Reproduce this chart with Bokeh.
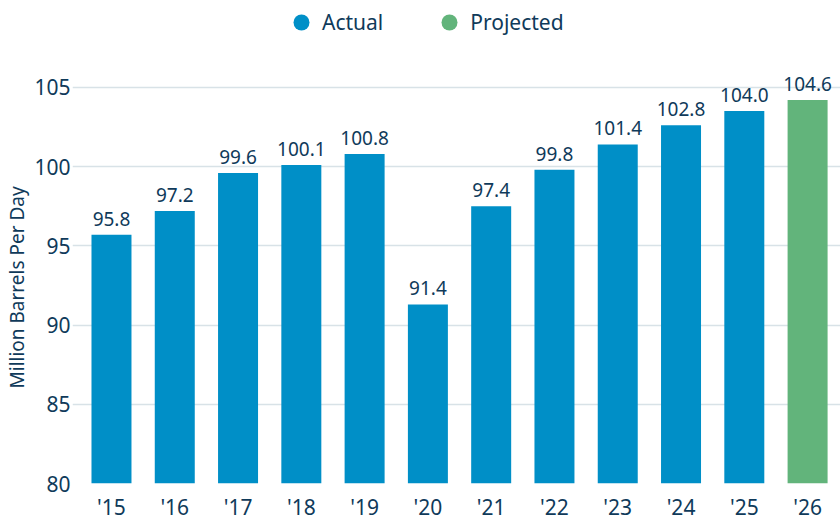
from bokeh.plotting import figure
from bokeh.models import Range1d, FixedTicker, Legend, LegendItem, ColumnDataSource, Title
from bokeh.core.properties import value
from bokeh.embed import file_html
from bokeh.resources import INLINE

# ---- data ----
years = ["'15", "'16", "'17", "'18", "'19", "'20", "'21", "'22", "'23", "'24", "'25", "'26"]
production = [95.7, 97.2, 99.6, 100.1, 100.8, 91.3, 97.5, 99.8, 101.4, 102.6, 103.5, 104.2]
value_labels = ["95.8", "97.2", "99.6", "100.1", "100.8", "91.4", "97.4", "99.8",
                "101.4", "102.8", "104.0", "104.6"]
status = ["Actual"] * 11 + ["Projected"]
y_ticks = [80, 85, 90, 95, 100, 105]

BLUE = "#008FC7"
GREEN = "#62B47B"
NAVY = "#0F3A5A"
GRID = "#D8E2E7"
FONT = "Noto Sans"

idx = list(range(len(years)))


def subset(kind):
    keep = [i for i, s in enumerate(status) if s == kind]
    return ColumnDataSource(dict(x=[idx[i] for i in keep],
                                 top=[production[i] for i in keep],
                                 label=[value_labels[i] for i in keep]))


src_act = subset("Actual")
src_proj = subset("Projected")

p = figure(width=840, height=523, output_backend="svg", toolbar_location=None,
           x_range=Range1d(-0.616, 11.52), y_range=Range1d(80, 110.48),
           min_border_left=72, min_border_right=0, min_border_top=0, min_border_bottom=38)
p.outline_line_color = None

for src, col in ((src_act, BLUE), (src_proj, GREEN)):
    p.vbar(x="x", top="top", bottom=80, width=0.632, fill_color=col, line_color=None, source=src)
    p.text(x="x", y="top", text="label", source=src, text_align="center", text_baseline="bottom",
           y_offset=-9, text_font=value(FONT), text_font_size="19px", text_color=NAVY)

# legend markers (zero-size points, only their legend glyphs show)
r_a = p.scatter(x="x", y="top", source=src_act, marker="circle", size=0,
                fill_color=BLUE, line_color=None)
r_p = p.scatter(x="x", y="top", source=src_proj, marker="circle", size=0,
                fill_color=GREEN, line_color=None)
legend = Legend(items=[LegendItem(label="Actual", renderers=[r_a]),
                       LegendItem(label="Projected", renderers=[r_p])],
                orientation="horizontal", location=(209, 441),
                glyph_width=40, glyph_height=40, label_standoff=1, spacing=46,
                padding=0, margin=0, border_line_alpha=0, background_fill_alpha=0,
                label_text_font=FONT, label_text_font_size="21px", label_text_color=NAVY)
p.add_layout(legend)

# y axis
p.yaxis.ticker = FixedTicker(ticks=y_ticks)
p.yaxis.axis_line_color = None
p.yaxis.major_tick_line_color = None
p.yaxis.minor_tick_line_color = None
p.yaxis.major_tick_out = 0
p.yaxis.major_tick_in = 0
p.yaxis.major_label_standoff = 2
p.yaxis.major_label_text_font = FONT
p.yaxis.major_label_text_font_size = "21px"
p.yaxis.major_label_text_color = NAVY

# y-axis title, centred on the 80-105 span
p.add_layout(Title(text="Million Barrels Per Day", align="left", offset=95, standoff=0,
                   vertical_align="top",
                   text_font=FONT, text_font_size="19px", text_font_style="normal",
                   text_color=NAVY), "left")

# x axis
p.xaxis.ticker = FixedTicker(ticks=idx)
p.xaxis.major_label_overrides = {i: y for i, y in zip(idx, years)}
p.xaxis.axis_line_color = None
p.xaxis.major_tick_line_color = None
p.xaxis.minor_tick_line_color = None
p.xaxis.major_tick_out = 0
p.xaxis.major_tick_in = 0
p.xaxis.major_label_standoff = 9
p.xaxis.major_label_text_font = FONT
p.xaxis.major_label_text_font_size = "21px"
p.xaxis.major_label_text_color = NAVY

p.xgrid.grid_line_color = None
p.ygrid.ticker = FixedTicker(ticks=y_ticks)
p.ygrid.grid_line_color = GRID
p.ygrid.grid_line_width = 1.5

open("out.html", "w").write(file_html(p, INLINE))
